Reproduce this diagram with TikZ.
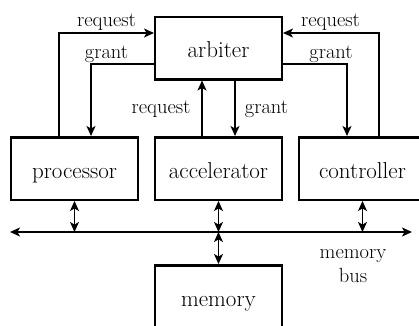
\documentclass[tikz,border=0pt]{standalone}
\usetikzlibrary{arrows.meta}
\begin{document}
\begin{tikzpicture}[x=1bp,y=-1bp,
  unit/.style={draw,line width=2.5bp,minimum width=126.5bp,minimum height=62.5bp,inner sep=0pt,
    text height=19bp,text depth=0pt,font=\fontsize{23bp}{28bp}\selectfont},
  lbl/.style={inner sep=0pt,anchor=base,font=\fontsize{20.5bp}{24bp}\selectfont},
  tip/.style={Stealth[length=10bp,width=9bp,inset=2.5bp]},
  conn/.style={line width=1.2bp,-{Stealth[length=10bp,width=9bp,inset=2.5bp]}},
  bidir/.style={line width=1.2bp,{Stealth[length=10bp,width=9bp,inset=2.5bp]}-{Stealth[length=10bp,width=9bp,inset=2.5bp]}}]
\path[use as bounding box,fill=white] (0,0) rectangle (419,326);
\clip (0,0) rectangle (419,326);
\node[unit] (arb)  at (218.5,48)    {arbiter};
\node[unit] (proc) at (74.5,168.5)  {processor};
\node[unit] (acc)  at (218.5,168.5) {accelerator};
\node[unit] (ctrl) at (362.5,168.5) {controller};
\node[unit] (mem)  at (218.5,296.5) {memory};
% bend coordinates
\coordinate (preq) at (59,33);
\coordinate (pgnt) at (91,64);
\coordinate (areq) at (202,0);
\coordinate (agnt) at (235,0);
\coordinate (creq) at (379,33);
\coordinate (cgnt) at (347,64);
\coordinate (busL) at (10,232);
\coordinate (busR) at (412,232);
% processor
\draw[conn] (proc.north -| preq) |- (arb.west |- preq);
\draw[conn] (arb.west |- pgnt) -| (proc.north -| pgnt);
% accelerator
\draw[conn] (acc.north -| areq) -- (arb.south -| areq);
\draw[conn] (arb.south -| agnt) -- (acc.north -| agnt);
% controller
\draw[conn] (ctrl.north -| creq) |- (arb.east |- creq);
\draw[conn] (arb.east |- cgnt) -| (ctrl.north -| cgnt);
% labels
\node[lbl] (l1) at (106.5,26) {request};
\node[lbl] (l2) at (106.5,58) {grant};
\node[lbl] (l3) at (161,113) {request};
\node[lbl] (l4) at (266.5,113) {grant};
\node[lbl] (l5) at (330.5,26) {request};
\node[lbl] (l6) at (331,58) {grant};
% bus
\draw[bidir] (busL) -- (busR);
\draw[bidir] (proc.south) -- (proc.south |- busL);
\draw[bidir] (acc.south) -- (acc.south |- busL);
\draw[bidir] (ctrl.south) -- (ctrl.south |- busL);
\draw[bidir] (acc.south |- busL) -- (mem.north);
\node[lbl] (bus1) at (353,258) {memory};
\node[lbl] (bus2) at (353,282) {bus};
\end{tikzpicture}
\end{document}
